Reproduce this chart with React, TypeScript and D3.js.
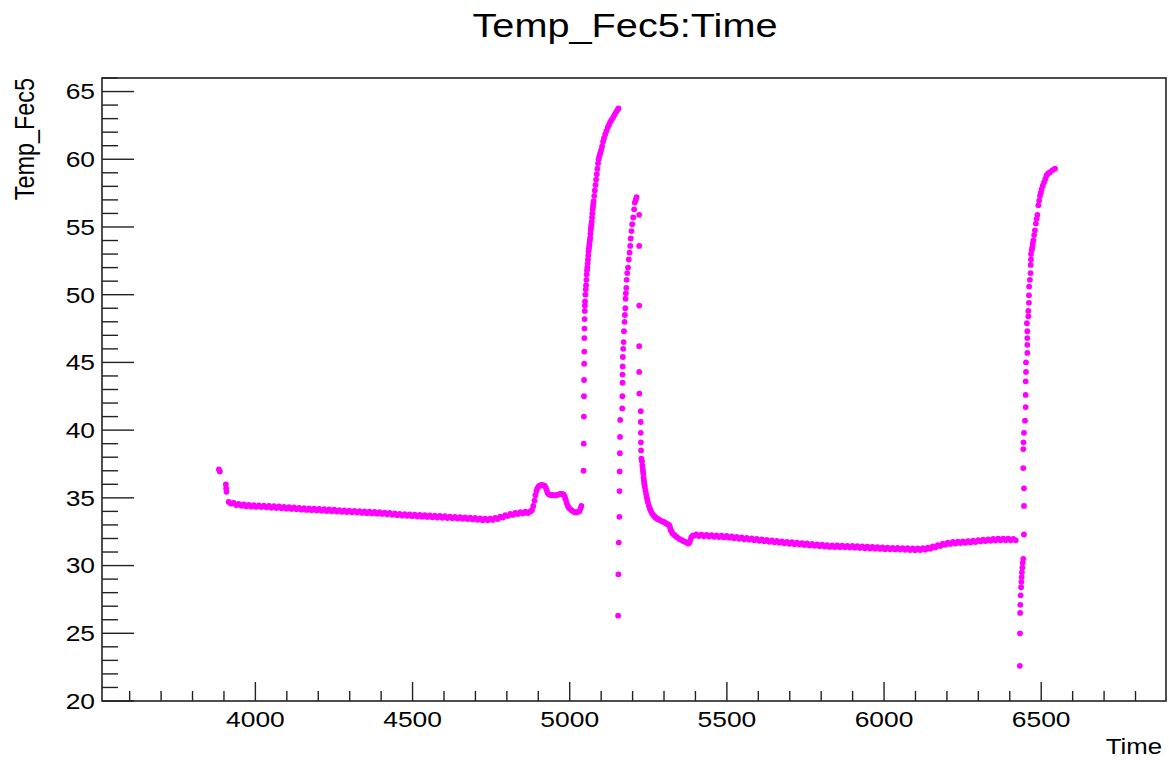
import React from "react";
import * as d3 from "d3";

// ---------- DATA (Time, Temp_Fec5) ----------
const startPoints: [number, number][] = [
  [3884, 37.1], [3887, 36.95], [3906, 36.0], [3907, 35.7], [3908, 35.45],
];

const baselineAStart = 3915;
const baselineAStep = 8;
const baselineAValues = [
  34.70, 34.57, 34.62, 34.47, 34.56, 34.41, 34.51, 34.37, 34.48, 34.35,
  34.46, 34.33, 34.44, 34.31, 34.42, 34.29, 34.40, 34.27, 34.38, 34.25,
  34.36, 34.23, 34.34, 34.20, 34.31, 34.18, 34.29, 34.16, 34.26, 34.13,
  34.24, 34.11, 34.22, 34.09, 34.20, 34.07, 34.18, 34.05, 34.16, 34.03,
  34.14, 34.01, 34.12, 33.99, 34.10, 33.97, 34.08, 33.95, 34.06, 33.93,
  34.04, 33.91, 34.02, 33.89, 34.00, 33.87, 33.98, 33.85, 33.96, 33.83,
  33.94, 33.81, 33.91, 33.78, 33.88, 33.75, 33.85, 33.72, 33.82, 33.69,
  33.80, 33.67, 33.78, 33.65, 33.76, 33.63, 33.74, 33.61, 33.72, 33.59,
  33.70, 33.57, 33.68, 33.55, 33.66, 33.53, 33.64, 33.51, 33.62, 33.49,
  33.60, 33.47, 33.58, 33.45, 33.56, 33.43, 33.54, 33.41, 33.52, 33.38,
  33.48, 33.35, 33.46, 33.34, 33.47, 33.37, 33.52, 33.44, 33.61, 33.55,
  33.73, 33.66, 33.82, 33.74, 33.89, 33.80, 33.94, 33.84, 33.98, 33.88,
  34.0,
];

const bumpTimes = [
  4880, 4884, 4888, 4891, 4894, 4897, 4901, 4905, 4910, 4915, 4920, 4924, 4927,
  4930, 4934, 4940, 4946, 4952, 4958, 4964, 4970, 4975, 4980, 4984, 4987, 4990,
  4993, 4996, 5000, 5005, 5010, 5015, 5020, 5025, 5030, 5034, 5037,
];
const bumpValues = [
  34.1, 34.4, 34.8, 35.2, 35.5, 35.7, 35.85, 35.9, 35.95, 35.93, 35.9, 35.75, 35.55,
  35.35, 35.25, 35.2, 35.22, 35.18, 35.2, 35.25, 35.3, 35.3, 35.25, 35.1, 34.9, 34.65,
  34.45, 34.3, 34.2, 34.1, 34.02, 33.95, 33.92, 33.95, 34.0, 34.2, 34.4,
];

const riseA: [number, number][] = [
  [5044, 37.0], [5044.5, 39.0], [5045, 41.0], [5045.3, 42.5], [5045.6, 43.7],
  [5046, 44.9], [5046.3, 45.8], [5046.6, 46.8], [5047, 47.5], [5047.4, 48.2],
  [5047.8, 48.8], [5048.2, 49.2], [5048.7, 49.5], [5050, 50.0], [5051, 50.4],
  [5052, 50.7], [5053, 51.1], [5054, 51.5], [5055, 51.8], [5056, 52.0],
  [5057, 52.3], [5058, 52.6], [5059, 52.9], [5060, 53.2], [5061, 53.4],
  [5062, 53.6], [5063, 53.8], [5064, 54.0], [5065, 54.2], [5066, 54.5],
  [5067, 54.8], [5068, 55.0], [5069, 55.2], [5070, 55.4], [5071, 55.7],
  [5072, 56.0], [5073, 56.3], [5074, 56.5], [5075, 56.7], [5076, 56.9],
  [5078, 57.3], [5080, 57.7], [5082, 58.1], [5084, 58.5], [5086, 58.9],
  [5088, 59.3], [5090, 59.7], [5092, 60.0], [5094, 60.2], [5096, 60.35],
  [5098, 60.5], [5100, 60.7], [5103, 60.95], [5106, 61.3], [5109, 61.55],
  [5113, 61.85], [5117, 62.1], [5121, 62.35], [5125, 62.55], [5129, 62.75],
  [5133, 62.9], [5138, 63.1], [5143, 63.3], [5148, 63.5], [5152, 63.65],
  [5155, 63.75],
];

const riseB: [number, number][] = [
  [5154, 26.3], [5155, 29.35], [5156, 31.7], [5158, 33.6], [5158.5, 35.5],
  [5159, 36.95], [5159.5, 38.3], [5160, 39.5], [5160.5, 40.75], [5167, 41.6],
  [5167.5, 42.5], [5168, 43.5], [5168, 44.1], [5168.5, 44.7], [5169, 45.4],
  [5170, 46.0], [5171.5, 46.5], [5172.5, 47.3], [5174.5, 48.0], [5175.5, 48.5],
  [5177, 49.0], [5177.5, 49.7], [5178.6, 50.1], [5180, 50.5], [5181, 51.1],
  [5183, 51.6], [5185.5, 52.0], [5188, 52.6], [5190.5, 53.1], [5192.5, 53.6],
  [5194, 54.15], [5196.5, 54.7], [5198.7, 55.2], [5202, 55.7], [5205, 56.3],
  [5207, 56.8], [5210, 57.0], [5212.5, 57.2],
];

const fallB: [number, number][] = [
  [5221, 55.9], [5221, 53.6], [5221, 49.2], [5221, 46.2], [5221, 44.3],
  [5221.5, 42.7], [5226, 41.4], [5226, 40.6], [5226, 39.8], [5226.5, 39.1],
  [5227, 38.5], [5228, 37.9],
];

const decayB: [number, number][] = [
  [5230, 37.7], [5231, 37.4], [5232, 37.2], [5233, 37.0], [5234, 36.8],
  [5235, 36.5], [5236, 36.3], [5237, 36.1], [5238, 35.95], [5239, 35.8],
  [5241, 35.55], [5243, 35.3], [5245, 35.05], [5247, 34.85], [5249, 34.65],
  [5252, 34.4], [5255, 34.2], [5258, 34.05], [5261, 33.9], [5265, 33.75],
  [5269, 33.65], [5273, 33.55], [5277, 33.48], [5281, 33.42], [5286, 33.37],
  [5291, 33.3], [5296, 33.25], [5301, 33.2], [5306, 33.12], [5311, 33.05],
  [5316, 33.0], [5319, 32.85], [5321, 32.65], [5324, 32.5], [5328, 32.35],
  [5333, 32.25], [5338, 32.15], [5344, 32.05], [5350, 31.95], [5356, 31.88],
  [5362, 31.8], [5367, 31.75], [5372, 31.7], [5377, 31.62], [5381, 31.7],
  [5384, 31.9], [5387, 32.1], [5391, 32.2],
];

const baselineBStart = 5395;
const baselineBStep = 8;
const baselineBValues = [
  32.20, 32.31, 32.18, 32.29, 32.16, 32.27, 32.14, 32.25, 32.12, 32.23,
  32.10, 32.21, 32.08, 32.19, 32.06, 32.16, 32.02, 32.12, 31.98, 32.08,
  31.94, 32.05, 31.91, 32.01, 31.87, 31.97, 31.83, 31.93, 31.80, 31.90,
  31.76, 31.86, 31.72, 31.83, 31.69, 31.79, 31.65, 31.75, 31.61, 31.72,
  31.58, 31.69, 31.55, 31.66, 31.52, 31.63, 31.49, 31.60, 31.46, 31.56,
  31.43, 31.54, 31.40, 31.51, 31.38, 31.49, 31.37, 31.48, 31.36, 31.47,
  31.35, 31.46, 31.34, 31.45, 31.32, 31.43, 31.30, 31.41, 31.28, 31.39,
  31.26, 31.38, 31.25, 31.36, 31.23, 31.34, 31.21, 31.33, 31.20, 31.31,
  31.19, 31.30, 31.18, 31.29, 31.16, 31.28, 31.15, 31.26, 31.14, 31.26,
  31.15, 31.28, 31.17, 31.32, 31.24, 31.41, 31.34, 31.51, 31.44, 31.61,
  31.53, 31.69, 31.60, 31.74, 31.63, 31.76, 31.66, 31.79, 31.68, 31.81,
  31.70, 31.84, 31.74, 31.88, 31.78, 31.91, 31.81, 31.94, 31.83, 31.96,
  31.85, 31.98, 31.87, 31.99, 31.87, 31.98, 31.86, 31.97, 31.86,
];

const riseC: [number, number][] = [
  [6432, 22.6], [6432.5, 25.0], [6433, 26.5], [6433.5, 27.1], [6434.6, 27.8],
  [6436, 28.4], [6437, 28.8], [6437.8, 29.15], [6438.5, 29.5], [6440, 29.85],
  [6441, 30.2], [6443, 30.5], [6445, 32.3], [6445.2, 34.4], [6445.2, 35.7],
  [6443, 37.2], [6443, 38.6], [6443.5, 39.1], [6445.2, 39.8], [6448.4, 40.7],
  [6450.5, 41.7], [6450.5, 42.6], [6450.5, 43.6], [6451.6, 44.3], [6451.6, 45.0],
  [6455.8, 45.7], [6455.8, 46.3], [6455.8, 46.8], [6455.8, 47.3], [6454.5, 47.9],
  [6459, 48.4], [6459, 48.8], [6461, 49.4], [6461, 49.95], [6461.5, 50.6],
  [6464, 51.1], [6466, 51.6], [6466.5, 52.2], [6467.5, 52.6], [6467.5, 53.0],
  [6470, 53.3], [6471.7, 53.5], [6473, 53.75], [6475, 54.0], [6477.5, 54.4],
  [6480, 54.75], [6483, 55.25], [6485.5, 55.6], [6488, 55.9], [6491, 56.6],
  [6493.5, 56.95], [6496, 57.3], [6499, 57.55], [6501.5, 57.8], [6505, 58.05],
  [6509, 58.3], [6513, 58.55], [6517, 58.8], [6522, 58.95], [6528, 59.05],
  [6536, 59.2], [6544, 59.3],
];

const yTicks = [20, 25, 30, 35, 40, 45, 50, 55, 60, 65];
const xTicks = [4000, 4500, 5000, 5500, 6000, 6500];

const titleText = "Temp_Fec5:Time";
const xTitle = "Time";
const yTitle = "Temp_Fec5";

// ---------- LAYOUT ----------
const W = 1169;
const H = 760;
const frame = { left: 102, right: 1166, top: 78, bottom: 701 };
const FONT = "'Liberation Sans', Arial, Helvetica, sans-serif";
const MARKER = "#ff00ff";

export default function App() {
  const x = d3.scaleLinear().domain([3512, 6897]).range([frame.left, frame.right]);
  const y = d3.scaleLinear().domain([20, 66]).range([frame.bottom, frame.top]);

  const points: [number, number][] = [
    ...startPoints,
    ...baselineAValues.map((v, i) => [baselineAStart + i * baselineAStep, v] as [number, number]),
    ...bumpTimes.map((t, i) => [t, bumpValues[i]] as [number, number]),
    ...riseA,
    ...riseB,
    ...fallB,
    ...decayB,
    ...baselineBValues.map((v, i) => [baselineBStart + i * baselineBStep, v] as [number, number]),
    ...riseC,
  ];

  const yMinor = d3.range(20, 66.001, 1);
  const xMinor = d3.range(3600, 6897, 100);

  return (
    <svg
      width={W}
      height={H}
      style={{ position: "absolute", left: 0, top: 0, background: "#fff" }}
      fontFamily={FONT}
    >
      <rect x={0} y={0} width={W} height={H} fill="#fff" />
      {/* title */}
      <text
        x={625}
        y={37}
        fontSize={34}
        textAnchor="middle"
        textLength={305}
        lengthAdjust="spacingAndGlyphs"
        fill="#000"
      >
        {titleText}
      </text>

      {/* data */}
      <g fill={MARKER}>
        {points.map((p, i) => (
          <circle key={i} cx={x(p[0])} cy={y(p[1])} r={2.9} />
        ))}
      </g>

      {/* frame */}
      <rect
        x={frame.left}
        y={frame.top}
        width={frame.right - frame.left}
        height={frame.bottom - frame.top}
        fill="none"
        stroke="#222"
        strokeWidth={1.6}
      />

      {/* ticks */}
      <g stroke="#222" strokeWidth={1.4}>
        {yMinor.map((v) => {
          const major = Math.abs(v % 5) < 1e-6;
          return (
            <line
              key={"ym" + v}
              x1={frame.left}
              x2={frame.left + (major ? 32 : 16)}
              y1={y(v)}
              y2={y(v)}
            />
          );
        })}
        {xMinor.map((t) => {
          const major = t % 500 === 0;
          return (
            <line
              key={"xm" + t}
              x1={x(t)}
              x2={x(t)}
              y1={frame.bottom}
              y2={frame.bottom - (major ? 19 : 10)}
            />
          );
        })}
      </g>

      {/* y tick labels */}
      {yTicks.map((v) => (
        <text
          key={"yl" + v}
          transform={`translate(95,${y(v)}) scale(1.2,1)`}
          dy="0.36em"
          fontSize={22}
          textAnchor="end"
          fill="#000"
        >
          {v}
        </text>
      ))}

      {/* x tick labels */}
      {xTicks.map((t) => (
        <text
          key={"xl" + t}
          transform={`translate(${x(t)},727) scale(1.2,1)`}
          fontSize={22}
          textAnchor="middle"
          fill="#000"
        >
          {t}
        </text>
      ))}

      {/* axis titles */}
      <text
        transform={`translate(1162,754) scale(1.2,1)`}
        fontSize={21.5}
        textAnchor="end"
        fill="#000"
      >
        {xTitle}
      </text>
      <text
        transform={`translate(34,${frame.top}) scale(1.2,1) rotate(-90)`}
        fontSize={23.4}
        textAnchor="end"
        fill="#000"
      >
        {yTitle}
      </text>
    </svg>
  );
}
